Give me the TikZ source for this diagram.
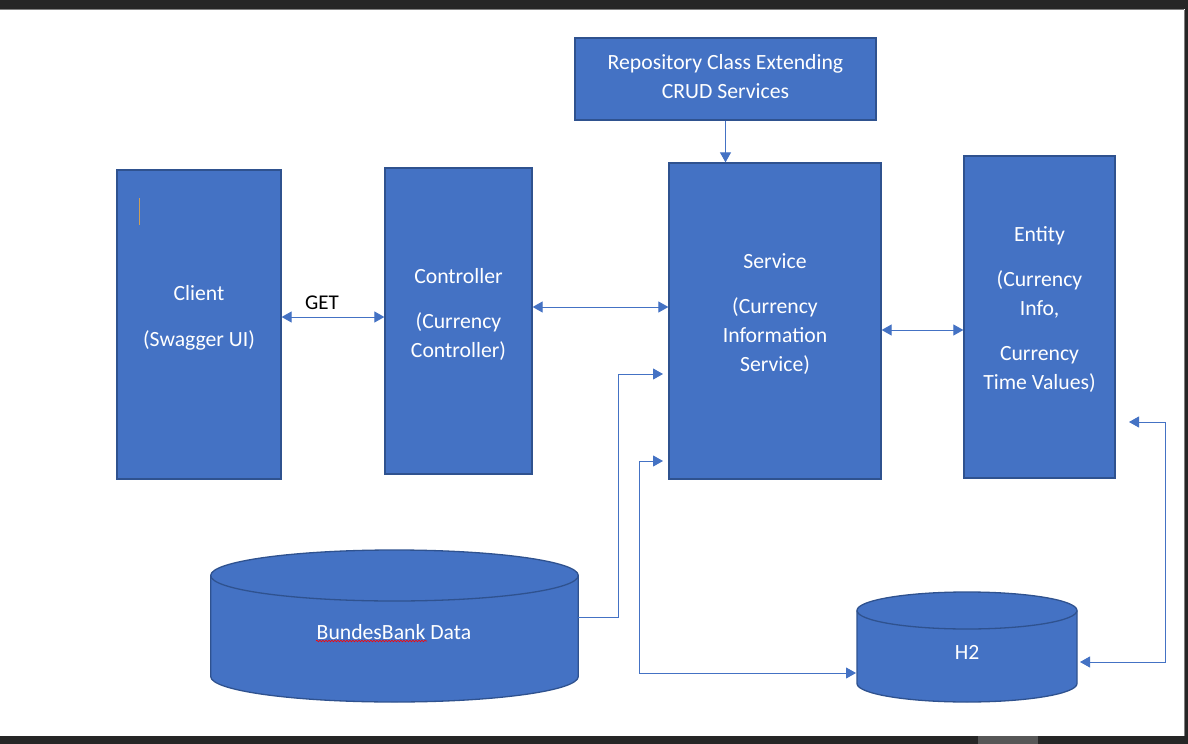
\documentclass[tikz,border=0pt]{standalone}
\usepackage{fontspec}
\setmainfont{Carlito}
\usetikzlibrary{arrows.meta,decorations.pathmorphing}
\definecolor{fillblue}{HTML}{4472C4}
\definecolor{edgeblue}{HTML}{2F528F}
\definecolor{barcol}{HTML}{262626}
\begin{document}
\begin{tikzpicture}[x=1bp,y=-1bp,
  box/.style={draw=edgeblue,fill=fillblue,line width=1.3bp,inner sep=0pt},
  cyl/.style={draw=edgeblue,fill=fillblue,line width=1.3bp},
  lbl/.style={text=white,font=\fontsize{21.7bp}{29bp}\selectfont,align=center,inner sep=0pt},
  conn/.style={draw=fillblue,line width=1bp,arrows={-Triangle[length=10bp,width=11bp]}},
  biarr/.style={draw=fillblue,line width=1bp,arrows={Triangle[length=10bp,width=11bp]-Triangle[length=10bp,width=11bp]}},
  ghost/.style={inner sep=0pt,outer sep=0pt}]
\useasboundingbox (0,0) rectangle (1188,744);
% window frame
\fill[white] (0,0) rectangle (1188,744);
\fill[barcol] (0,0) rectangle (1188,9);
\draw[gray,line width=1bp] (0,9.5) -- (1184,9.5);
\fill[barcol] (1185,0) rectangle (1188,744);
\draw[gray,line width=0.8bp] (1184.5,10) -- (1184.5,736);
\fill[barcol] (0,736) rectangle (1188,744);
\fill[gray!55!barcol] (978,736) rectangle (1038,744);

% boxes
\node[box,minimum width=301bp,minimum height=82bp] (repo) at (725.5,79) {};
\node[box,minimum width=164bp,minimum height=309bp] (client) at (199,324.5) {};
\node[box,minimum width=147bp,minimum height=306bp] (controller) at (458.5,321) {};
\node[box,minimum width=212bp,minimum height=316bp] (service) at (775,321) {};
\node[box,minimum width=151bp,minimum height=322bp] (entity) at (1039.5,317) {};

% labels
\node[lbl] (repotext) at (725.5,76.5) {Repository Class Extending\\CRUD Services};
\node[lbl] (clienttext) at (199,317.5) {Client\\[17bp](Swagger UI)};
\node[lbl] (controllertext) at (458.5,314.5) {Controller\\[16bp](Currency\\Controller)};
\node[lbl] (servicetext) at (775,314) {Service\\[16bp](Currency\\Information\\Service)};
\node[lbl] (entitytext) at (1039.5,309.5) {Entity\\[16bp](Currency\\Info,\\[16bp]Currency\\Time Values)};

% text cursor in client box
\draw[color={rgb,1:red,0.8;green,0.62;blue,0.35},line width=0.8bp] (139.3,198) -- (139.3,225);

% cylinders
\path[cyl] (210.7,575.5) -- (210.7,676.5)
  arc[start angle=180,end angle=0,x radius=183.8,y radius=25.5] -- (578.3,575.5)
  arc[start angle=0,end angle=-180,x radius=183.8,y radius=25.5] -- cycle;
\draw[draw=edgeblue,line width=1.3bp] (210.7,575.5) arc[start angle=180,end angle=0,x radius=183.8,y radius=25.5];
\node[ghost,minimum width=367.6bp,minimum height=152bp] (bb) at (394.5,626) {};
\node[lbl] (bbtext) at (394,632) {BundesBank Data};
\draw[red,line width=0.6bp,decorate,decoration={snake,amplitude=0.8bp,segment length=3bp}] (316,641) -- (427,641);

\path[cyl] (857,610.5) -- (857,683.5)
  arc[start angle=180,end angle=0,x radius=110,y radius=18.5] -- (1077,610.5)
  arc[start angle=0,end angle=-180,x radius=110,y radius=18.5] -- cycle;
\draw[draw=edgeblue,line width=1.3bp] (857,610.5) arc[start angle=180,end angle=0,x radius=110,y radius=18.5];
\node[ghost,minimum width=220bp,minimum height=110bp] (h2) at (967,647) {};
\node[lbl] (h2text) at (967,652) {H2};

% connectors
\node[font=\fontsize{21bp}{24bp}\selectfont,inner sep=0pt] (get) at (322,303) {GET};
\draw[biarr] (client.east |- 0,317) -- (controller.west |- 0,317);
\draw[biarr] (controller.east |- 0,307) -- (service.west |- 0,307);
\draw[biarr] (service.east |- 0,330) -- (entity.west |- 0,330);
\draw[conn] (repo.south) -- (repo.south |- service.north);

\coordinate (s1) at (663,374);
\draw[conn] (bb.east |- 0,617) -- (618,617) -- (618,374) -- (s1);

\coordinate (s2) at (663,461);
\coordinate (h2l) at (856,673);
\draw[biarr] (s2) -- (639.5,461) -- (639.5,673) -- (h2l);

\coordinate (e1) at (1129,422);
\coordinate (h2r) at (1080,662);
\draw[biarr] (e1) -- (1165.5,422) -- (1165.5,662) -- (h2r);
\end{tikzpicture}
\end{document}
